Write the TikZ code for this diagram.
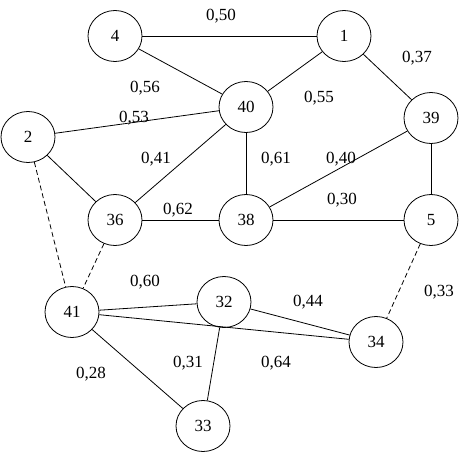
\documentclass[tikz,border=0pt]{standalone}
\usepackage{fontspec}
\setmainfont{Liberation Serif}
\usetikzlibrary{shapes.geometric}

\begin{document}
\begin{tikzpicture}[x=1pt,y=-1pt,
  vertex/.style={draw,ellipse,minimum width=54pt,minimum height=51pt,inner sep=0pt,line width=0.8pt,font=\fontsize{17}{20}\selectfont},
  weight/.style={font=\fontsize{17}{20}\selectfont},
  link/.style={line width=0.8pt},
  dashlink/.style={link,dash pattern=on 5pt off 3pt}]
\useasboundingbox (0,0) rectangle (469,453);
% vertices
\foreach \n/\x/\y in {4/115/36,1/344/36,40/246/107,39/431/118,2/28/137,36/115/220,38/246/220,5/431/220,41/72/312,32/224/302,34/376/342,33/203/426}{
  \node[vertex] (n\n) at (\x,\y) {\n};
}
% edges
\foreach \a/\b in {4/1,4/40,1/40,1/39,2/40,2/36,40/36,40/38,39/38,39/5,36/38,38/5,41/32,41/34,41/33,32/34,32/33}{
  \draw[link] (n\a) -- (n\b);
}
\foreach \a/\b in {2/41,36/41,5/34}{
  \draw[dashlink] (n\a) -- (n\b);
}
% weights
\foreach \x/\y/\w [count=\i] in {221/16/{0,50},145/88/{0,56},319/98/{0,55},417/58/{0,37},134/118/{0,53},156/159/{0,41},276/159/{0,61},341/159/{0,40},178/210/{0,62},342/200/{0,30},145/282/{0,60},308/302/{0,44},439/292/{0,33},91/374/{0,28},188/363/{0,31},276/363/{0,64}}{
  \node[weight] (w\i) at (\x,\y) {\w};
}
\end{tikzpicture}
\end{document}
